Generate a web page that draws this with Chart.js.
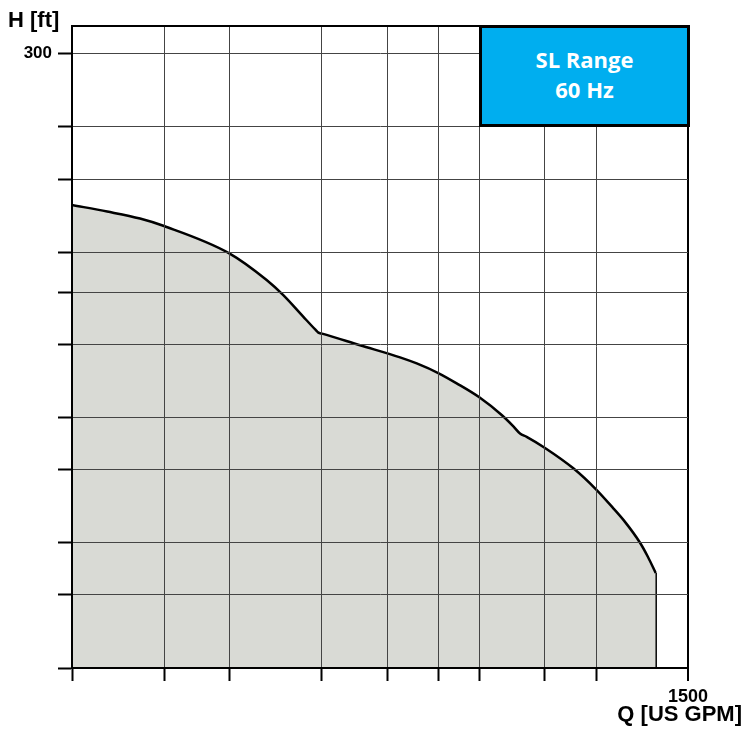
<!DOCTYPE html>
<html>
<head>
<meta charset="utf-8">
<title>SL Range 60 Hz</title>
<script src="https://cdn.jsdelivr.net/npm/chart.js@4/dist/chart.umd.min.js"></script>
<style>
  html, body { margin: 0; padding: 0; background: #fff; }
  #wrap { position: relative; width: 745px; height: 736px; overflow: hidden; }
  #chart { position: absolute; left: 0; top: 0; }
  .axis-title {
    position: absolute;
    font: bold 22px "Liberation Sans", Arial, sans-serif;
    line-height: 22px;
    color: #000;
    white-space: nowrap;
  }
  #yTitle { left: 8px; top: 9px; }
  #xTitle { right: 3px; top: 703px; }
  #rangeBox {
    position: absolute;
    left: 479px; top: 25px; width: 211px; height: 102px;
    box-sizing: border-box;
    border: 3px solid #000;
    background: #00AEEF;
    color: #fff;
    font: bold 22px "Open Sans", "Noto Sans", sans-serif;
    line-height: 30px;
    text-align: center;
    padding-top: 16px;
  }
</style>
</head>
<body>
<div id="wrap">
  <canvas id="chart" width="745" height="736"></canvas>
  <div class="axis-title" id="yTitle">H [ft]</div>
  <div class="axis-title" id="xTitle">Q [US GPM]</div>
  <div id="rangeBox">SL Range<br>60 Hz</div>
</div>
<script>
// envelope of the SL range (log-log)
const flowGpm = [14.5, 18.9, 24.2, 29.0, 47.4, 62.8, 71.2, 82.7, 90.7, 92.7,
  95.3, 126.9, 171.5, 194.5, 229.5, 262.7, 311.6, 368.7, 402.0, 423.3, 445.0, 511.0,
  632.4, 750.3, 854.7, 933.3, 1045.2, 1109.7, 1176.0];
const headFt = [71.5, 67.2, 62.9, 58.6, 45.3, 35.2, 30.5, 24.9, 22.0, 21.4,
  21.2, 19.0, 16.95, 16.0, 14.58, 13.26, 11.62, 9.83, 8.85, 8.25, 8.0, 7.20,
  5.94, 4.87, 4.07, 3.58, 2.94, 2.57, 2.21];

// vertical end of the envelope at maximum flow
const dropFlow = [1176.0, 1176.0];
const dropHead = [2.21, 0.9];

// grid lines (only some get a label)
const qGridTicks = [14.5, 29, 47.4, 95.1, 155.5, 228.8, 310.9, 509.8, 750.3, 1500];
const hGridTicks = [0.9, 1.8, 2.94, 5.86, 9.62, 19.17, 31.3, 45.7, 91.4, 149.8, 300, 388];
const qLabels = [1500];
const hLabels = [300];

const Q_MIN = 14.5, Q_MAX = 1500;
const H_MIN = 0.9, H_MAX = 388;

const GRID = '#444';
const FILL = '#D9DAD5';

const toPoints = (xs, ys) => xs.map((x, i) => ({ x, y: ys[i] }));

new Chart(document.getElementById('chart'), {
  type: 'scatter',
  data: {
    datasets: [
      {
        data: toPoints(flowGpm, headFt),
        showLine: true,
        fill: 'start',
        backgroundColor: FILL,
        borderColor: '#000',
        borderWidth: 2.5,
        pointRadius: 0,
        cubicInterpolationMode: 'monotone'
      },
      {
        data: toPoints(dropFlow, dropHead),
        showLine: true,
        fill: false,
        borderColor: '#000',
        borderWidth: 2.5,
        pointRadius: 0
      }
    ]
  },
  options: {
    responsive: false,
    devicePixelRatio: 1,
    animation: false,
    layout: { padding: { top: 26, right: 57, bottom: 0, left: 0 } },
    plugins: {
      legend: { display: false },
      tooltip: { enabled: false }
    },
    scales: {
      x: {
        type: 'logarithmic',
        min: Q_MIN,
        max: Q_MAX,
        afterBuildTicks(scale) {
          scale.ticks = qGridTicks.map(v => ({ value: v }));
        },
        afterFit(scale) { scale.height = 68; },
        ticks: {
          autoSkip: false,
          maxRotation: 0,
          padding: 5,
          color: '#000',
          font: { family: 'Liberation Sans', size: 18, weight: 'bold' },
          callback: v => (qLabels.includes(v) ? String(v) : '')
        },
        grid: {
          z: 1,
          color: c => (c.tick && c.tick.value === Q_MAX ? '#000' : GRID),
          lineWidth: c => (c.tick && c.tick.value === Q_MAX ? 2 : 1),
          tickColor: '#000',
          tickWidth: 2,
          tickLength: 13
        },
        border: { display: true, color: '#000', width: 2, z: 2 }
      },
      y: {
        type: 'logarithmic',
        min: H_MIN,
        max: H_MAX,
        afterBuildTicks(scale) {
          scale.ticks = hGridTicks.map(v => ({ value: v }));
        },
        afterFit(scale) { scale.width = 72; },
        ticks: {
          autoSkip: false,
          padding: 6,
          color: '#000',
          font: { family: 'Liberation Sans', size: 17, weight: 'bold' },
          callback: v => (hLabels.includes(v) ? String(v) : '')
        },
        grid: {
          z: 1,
          color: c => (c.tick && c.tick.value === H_MAX ? '#000' : GRID),
          lineWidth: c => (c.tick && c.tick.value === H_MAX ? 2 : 1),
          tickColor: c => (c.tick && c.tick.value === H_MAX ? 'rgba(0,0,0,0)' : '#000'),
          tickWidth: 2,
          tickLength: 14
        },
        border: { display: true, color: '#000', width: 2, z: 2 }
      }
    }
  }
});
</script>
</body>
</html>
